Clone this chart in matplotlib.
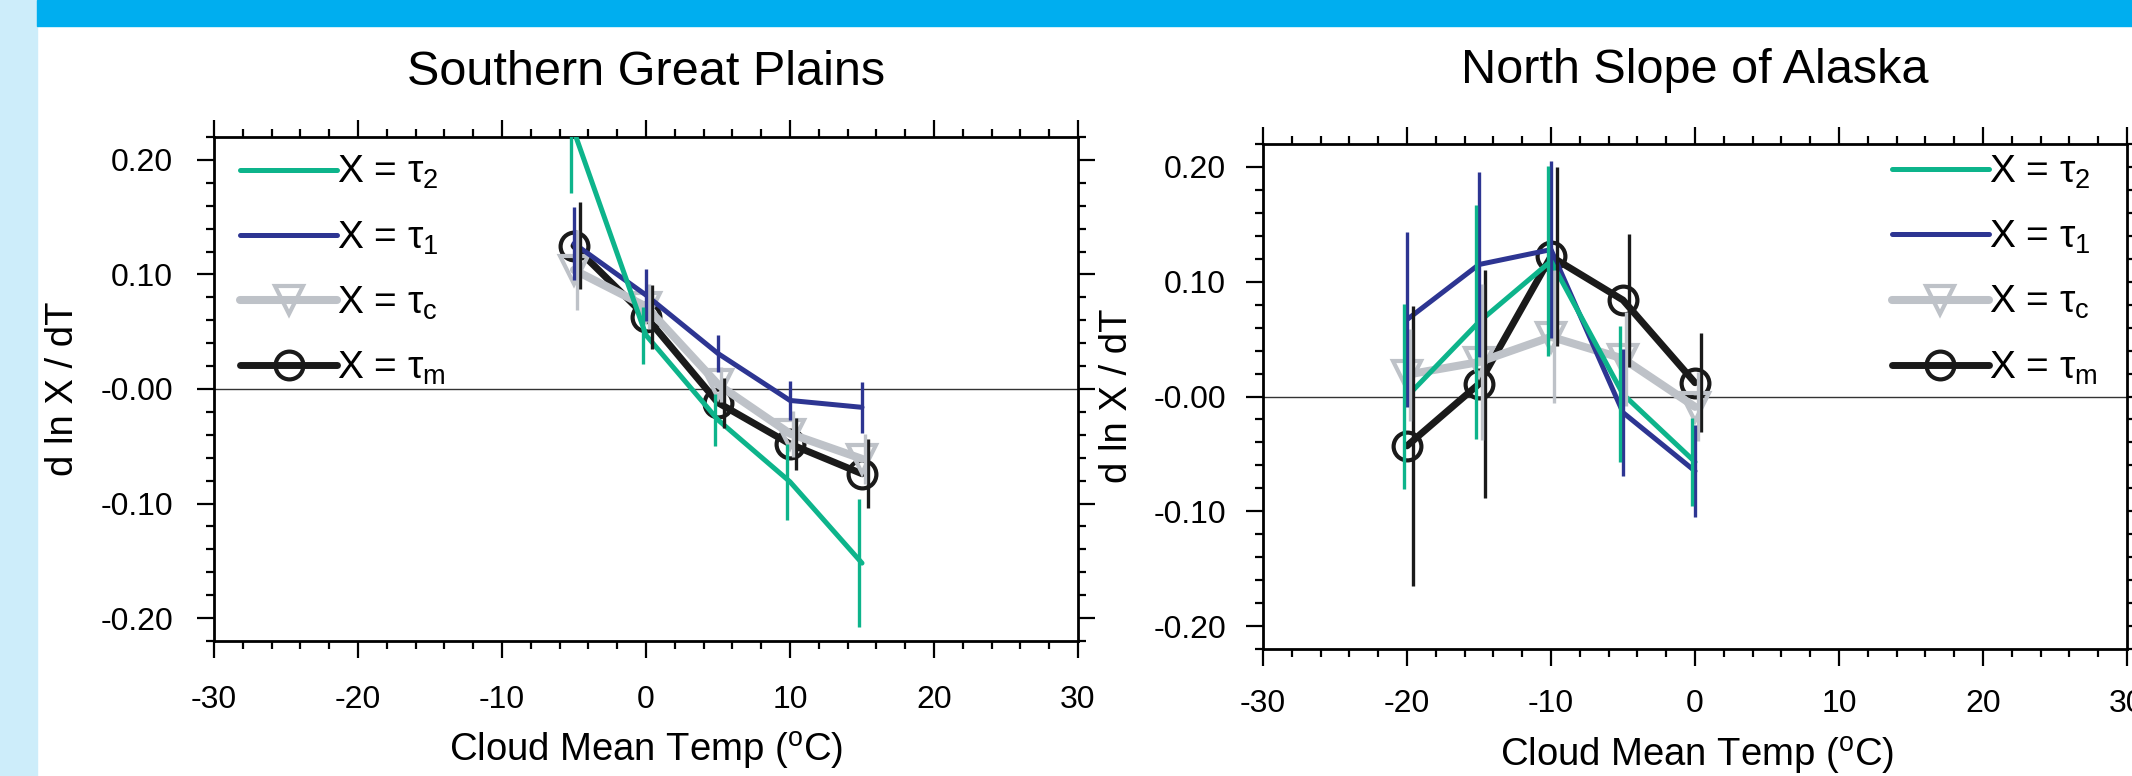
import matplotlib
matplotlib.use('Agg')
import matplotlib.pyplot as plt
from matplotlib.patches import Rectangle
from matplotlib.ticker import MultipleLocator

plt.rcParams['font.family'] = ['Liberation Sans', 'DejaVu Sans']
plt.rcParams['mathtext.fontset'] = 'custom'
plt.rcParams['mathtext.rm'] = 'Liberation Sans'
plt.rcParams['axes.unicode_minus'] = False

# Southern Great Plains
sgp_temp = [-5, 0, 5, 10, 15]
sgp_tau2 = [0.225, 0.047, -0.027, -0.081, -0.152]
sgp_tau2_err = [0.054, 0.025, 0.023, 0.033, 0.056]
sgp_tau1 = [0.127, 0.082, 0.031, -0.010, -0.016]
sgp_tau1_err = [0.032, 0.023, 0.016, 0.017, 0.022]
sgp_tauc = [0.104, 0.072, 0.004, -0.039, -0.061]
sgp_tauc_err = [0.035, 0.020, 0.015, 0.020, 0.022]
sgp_taum = [0.125, 0.063, -0.012, -0.048, -0.074]
sgp_taum_err = [0.038, 0.028, 0.022, 0.023, 0.030]

# North Slope of Alaska
nsa_temp = [-20, -15, -10, -5, 0]
nsa_tau2 = [0.0, 0.065, 0.118, 0.002, -0.057]
nsa_tau2_err = [0.081, 0.102, 0.083, 0.059, 0.038]
nsa_tau1 = [0.067, 0.115, 0.128, -0.014, -0.065]
nsa_tau1_err = [0.076, 0.081, 0.077, 0.055, 0.040]
nsa_tauc = [0.019, 0.030, 0.052, 0.033, -0.009]
nsa_tauc_err = [0.040, 0.068, 0.058, 0.041, 0.030]
nsa_taum = [-0.043, 0.011, 0.122, 0.084, 0.012]
nsa_taum_err = [0.122, 0.099, 0.078, 0.058, 0.043]

labels = ['X = \u03c4$_\\mathregular{2}$', 'X = \u03c4$_\\mathregular{1}$',
          'X = \u03c4$_\\mathregular{c}$', 'X = \u03c4$_\\mathregular{m}$']
ytick_vals = [-0.2, -0.1, 0.0, 0.1, 0.2]
ytick_labels = ['-0.20', '-0.10', '-0.00', '0.10', '0.20']

# color, linewidth, marker, zorder, errorbar x offset
styles = [
    ('#0DB48B', 3.6, None, 5, -0.2),
    ('#2D3592', 3.6, None, 4, 0.0),
    ('#BEC2C8', 5.8, 'v', 3, 0.2),
    ('#1A1A1A', 5.0, 'o', 2, 0.4),
]

W, H = 2132, 776
fig = plt.figure(figsize=(W / 100, H / 100), dpi=100)
fig.patches.append(Rectangle((0, 0), 37 / W, 1, transform=fig.transFigure,
                             color='#CDEDFA', zorder=-5))
fig.patches.append(Rectangle((37 / W, 1 - 26 / H), 1, 26 / H, transform=fig.transFigure,
                             color='#00AEEF', zorder=-5))

ax1 = fig.add_axes([214 / W, 1 - 641 / H, 864 / W, 504 / H])
ax2 = fig.add_axes([1263 / W, 1 - 649 / H, 864 / W, 505 / H])


def draw_panel(ax, temp, series, errs, legend_loc, legend_anchor, xpad, ypad):
    for (c, lw, mk, z, off), y, e, lab in zip(styles, series, errs, labels):
        ax.plot(temp, y, color=c, lw=lw, marker=mk, ms=20, mew=3, mfc='none',
                solid_capstyle='round', solid_joinstyle='round', zorder=z, label=lab)
        ax.errorbar([t + off for t in temp], y, yerr=e, fmt='none', ecolor=c,
                    elinewidth=2.4, capsize=0, zorder=z + 5)
    ax.axhline(0, color='#333333', lw=1.0, zorder=1)
    ax.set_xlim(-30, 30)
    ax.set_ylim(-0.22, 0.22)
    ax.xaxis.set_major_locator(MultipleLocator(10))
    ax.xaxis.set_minor_locator(MultipleLocator(2))
    ax.set_yticks(ytick_vals)
    ax.set_yticklabels(ytick_labels)
    ax.yaxis.set_minor_locator(MultipleLocator(0.02))
    ax.tick_params(which='both', direction='out', top=True, right=True, width=1.6)
    ax.tick_params(which='major', length=12.5, labelsize=23)
    ax.tick_params(which='minor', length=6)
    ax.tick_params(axis='x', pad=xpad)
    ax.tick_params(axis='y', pad=ypad)
    for s in ax.spines.values():
        s.set_linewidth(2.0)
    leg = ax.legend(loc=legend_loc, bbox_to_anchor=legend_anchor, frameon=False,
                    fontsize=28, handlelength=2.5, handletextpad=0.0,
                    labelspacing=0.72, borderpad=0, borderaxespad=0)
    return leg


draw_panel(ax1, sgp_temp, [sgp_tau2, sgp_tau1, sgp_tauc, sgp_taum],
           [sgp_tau2_err, sgp_tau1_err, sgp_tauc_err, sgp_taum_err],
           'upper left', (0.030, 0.966), 19, 17)
draw_panel(ax2, nsa_temp, [nsa_tau2, nsa_tau1, nsa_tauc, nsa_taum],
           [nsa_tau2_err, nsa_tau1_err, nsa_tauc_err, nsa_taum_err],
           'upper right', (0.966, 0.981), 16, 14)

# titles and axis labels
fig.text(646 / W, 1 - 85 / H, 'Southern Great Plains', ha='center', va='baseline', fontsize=35)
fig.text(1695 / W, 1 - 83 / H, 'North Slope of Alaska', ha='center', va='baseline', fontsize=35)
fig.text(63 / W, 1 - 389 / H, 'd ln X / dT', rotation=90, ha='center', va='center', fontsize=27.5)
fig.text(1117 / W, 1 - 396 / H, 'd ln X / dT', rotation=90, ha='center', va='center', fontsize=27.5)
xlab = 'Cloud Mean Temp ($^\\mathregular{o}$C)'
fig.text(646 / W, 1 - 762 / H, xlab, ha='center', va='baseline', fontsize=27.5)
fig.text(1697 / W, 1 - 767 / H, xlab, ha='center', va='baseline', fontsize=27.5)

fig.savefig('out.png', dpi=100)
